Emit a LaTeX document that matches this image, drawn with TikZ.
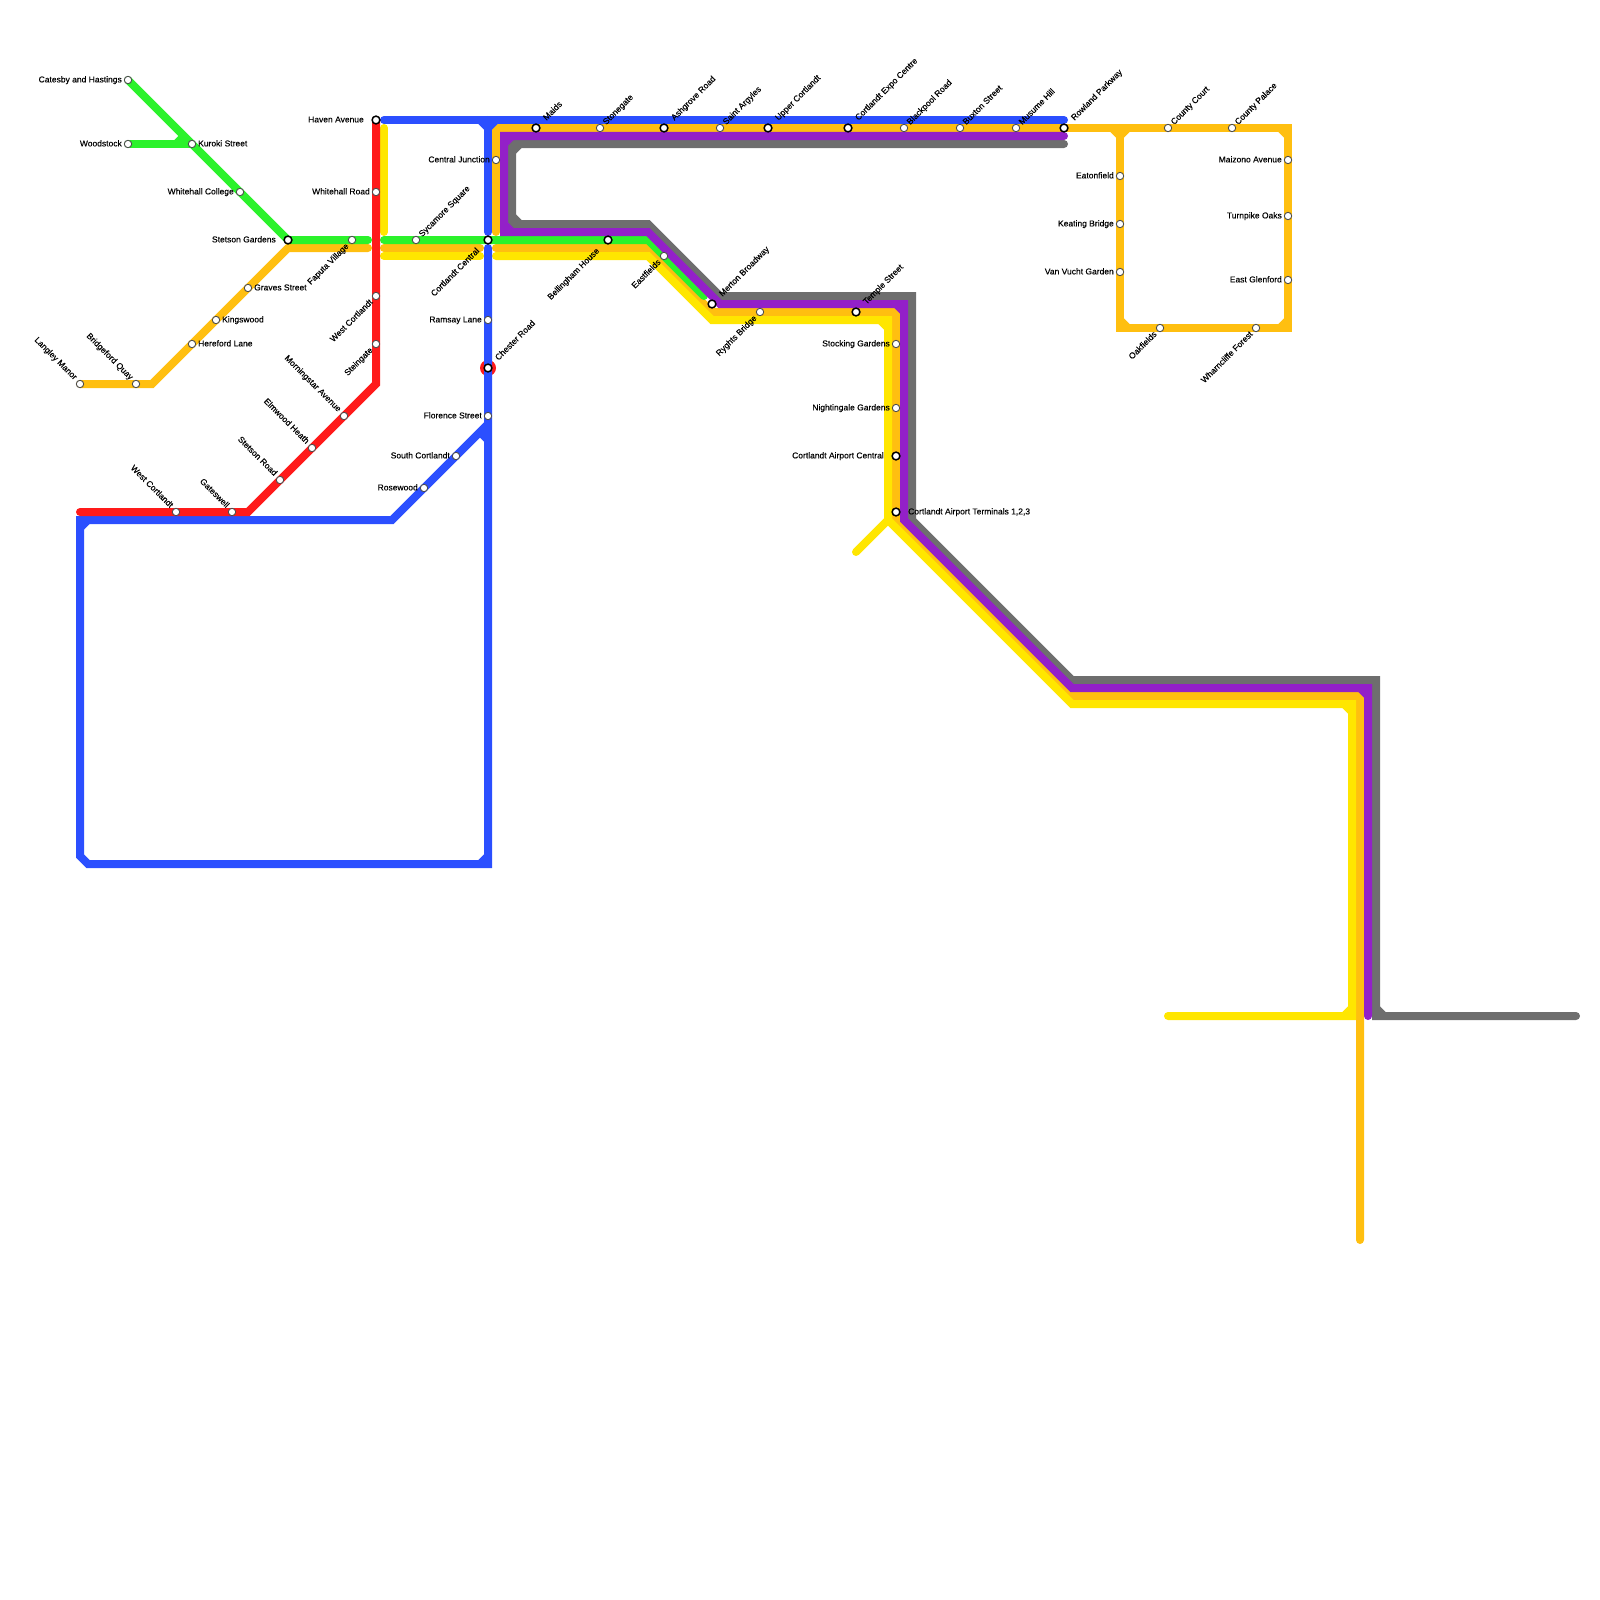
\documentclass[tikz,border=0pt]{standalone}
\usepackage{fontspec}
\setmainfont{Liberation Sans}
\newfontfamily\tagfont[FakeBold=0.25]{Liberation Sans}
\definecolor{metrogrey}{HTML}{6E6E6E}
\definecolor{metropurple}{HTML}{9320C8}
\definecolor{metrogreen}{HTML}{2BF22B}
\definecolor{metroorange}{HTML}{FFBF10}
\definecolor{metroyellow}{HTML}{FFE600}
\definecolor{metroblue}{HTML}{2B4FFF}
\definecolor{metrored}{HTML}{FF1A1A}
\tikzstyle{metro} = [line width=8pt, line cap=round, line join=miter]
\tikzstyle{notch} = [line cap=butt]
\tikzstyle{station} = [circle, draw=black!70, line width=0.9pt, fill=white, minimum size=7.4pt, inner sep=0pt]
\tikzstyle{hub} = [circle, draw=black, line width=1.5pt, fill=white, minimum size=7.8pt, inner sep=0pt]
\tikzstyle{tag} = [font=\tagfont\fontsize{8.5}{10}\selectfont, inner sep=0pt, text=black]
\tikzset{
  tag_e/.style={tag, anchor=base west, xshift=#1, yshift=-2.4pt},
  tag_w/.style={tag, anchor=base east, xshift=-#1, yshift=-2.4pt},
  tag_ne/.style={tag, xshift=1.075*#1+1.8pt, yshift=1.085*#1-1.68pt, rotate=45, anchor=base west},
  tag_sw/.style={tag, xshift=-1.35*#1+2.7pt, yshift=-1.16*#1-2.02pt, rotate=45, anchor=base east},
  tag_nw/.style={tag, xshift=-1.5*#1, yshift=0.9*#1, rotate=-45, anchor=base east},
}
\begin{document}
\begin{tikzpicture}[x=1pt, y=-1pt]
\useasboundingbox (0,0) rectangle (1600,1600);

% Grey line
\draw [metro, metrogrey] (1064,144) -- (512,144) -- (512,224) -- (648,224) -- (720,296) -- (912,296) -- (912,520) -- (1072,680) -- (1376,680) -- (1376,1016) -- (1576,1016);
\draw [metro, notch, metrogrey] (520,144) -- (512,152);
\draw [metro, notch, metrogrey] (512,216) -- (520,224);
\draw [metro, notch, metrogrey] (1376,1008) -- (1384,1016);

% Orange line
\draw [metro, metroorange] (80,384) -- (152,384) -- (288,248) -- (368,248);
\draw [metro, metroorange] (384,248) -- (480,248);
\draw [metro, metroorange] (496,248) -- (648,248) -- (712,312) -- (896,312) -- (896,520) -- (1072,696) -- (1360,696) -- (1360,1240);
\draw [metro, metroorange] (496,232) -- (496,128) -- (1288,128) -- (1288,328) -- (1120,328) -- (1120,128);
\draw [metro, notch, metroorange] (1112,128) -- (1120,136);
\draw [metro, notch, metroorange] (1128,128) -- (1120,136);
\draw [metro, notch, metroorange] (1280,128) -- (1288,136);
\draw [metro, notch, metroorange] (1288,320) -- (1280,328);
\draw [metro, notch, metroorange] (1120,320) -- (1128,328);

% Green line
\draw [metro, metrogreen] (128,80) -- (288,240) -- (368,240);
\draw [metro, metrogreen] (128,144) -- (192,144);
\draw [metro, notch, metrogreen] (176,144) -- (184,136);
\draw [metro, metrogreen] (384,240) -- (648,240) -- (704,296);

% Yellow line
\draw [metro, metroyellow] (384,128) -- (384,232);
\draw [metro, metroyellow] (384,256) -- (480,256);
\draw [metro, metroyellow] (496,256) -- (648,256) -- (712,320) -- (888,320) -- (888,520) -- (1072,704) -- (1352,704) -- (1352,1016) -- (1168,1016);
\draw [metro, metroyellow] (888,520) -- (856,552);
\draw [metro, notch, metroyellow] (880,320) -- (888,328);
\draw [metro, notch, metroyellow] (1344,704) -- (1352,712);
\draw [metro, notch, metroyellow] (1352,1008) -- (1344,1016);

% Purple line
\draw [metro, metropurple] (1064,136) -- (504,136) -- (504,232) -- (648,232) -- (720,304) -- (904,304) -- (904,520) -- (1072,688) -- (1368,688) -- (1368,1016);
\draw [metro, notch, metropurple] (512,136) -- (504,144);
\draw [metro, notch, metropurple] (504,224) -- (512,232);
\draw [metro, notch, metropurple] (896,304) -- (904,312);
\draw [metro, notch, metropurple] (1360,688) -- (1368,696);

% Red ring under the blue line
\node (chester_ring) [circle, fill=metrored, minimum size=16pt, inner sep=0pt] at (488,368) {};

% Blue line
\draw [metro, metroblue] (384,120) -- (1064,120);
\draw [metro, metroblue] (488,120) -- (488,232);
\draw [metro, metroblue] (488,248) -- (488,864) -- (88,864) -- (80,856) -- (80,520) -- (392,520) -- (488,424);
\draw [metro, notch, metroblue] (480,120) -- (488,128);
\draw [metro, notch, metroblue] (496,120) -- (488,128);
\draw [metro, notch, metroblue] (88,520) -- (80,528);
\draw [metro, notch, metroblue] (480,432) -- (488,440);
\draw [metro, notch, metroblue] (488,856) -- (480,864);

% Red line
\draw [metro, metrored] (376,120) -- (376,384) -- (248,512) -- (80,512);

% Green stations
\node (catesby) [station] at (128,80) {};
\node (catesby_tag) [tag_w=6pt] at (catesby) {Catesby and Hastings};
\node (woodstock) [station] at (128,144) {};
\node (woodstock_tag) [tag_w=6pt] at (woodstock) {Woodstock};
\node (kuroki) [station] at (192,144) {};
\node (kuroki_tag) [tag_e=6pt] at (kuroki) {Kuroki Street};
\node (whitehall_college) [station] at (240,192) {};
\node (whitehall_college_tag) [tag_w=6pt] at (whitehall_college) {Whitehall College};
\node (stetson_gardens) [hub] at (288,240) {};
\node (stetson_gardens_tag) [tag_w=12pt] at (stetson_gardens) {Stetson Gardens};
\node (faputa) [station] at (352,240) {};
\node (faputa_tag) [tag_sw=4pt] at (faputa) {Faputa Village};
\node (sycamore) [station] at (416,240) {};
\node (sycamore_tag) [tag_ne=4pt] at (sycamore) {Sycamore Square};
\node (eastfields) [station] at (664,256) {};
\node (eastfields_tag) [tag_sw=4pt] at (eastfields) {Eastfields};

% Left orange stations
\node (langley) [station] at (80,384) {};
\node (langley_tag) [tag_nw=4pt] at (langley) {Langley Manor};
\node (bridgeford) [station] at (136,384) {};
\node (bridgeford_tag) [tag_nw=4pt] at (bridgeford) {Bridgeford Quay};
\node (hereford) [station] at (192,344) {};
\node (hereford_tag) [tag_e=6pt] at (hereford) {Hereford Lane};
\node (kingswood) [station] at (216,320) {};
\node (kingswood_tag) [tag_e=6pt] at (kingswood) {Kingswood};
\node (graves) [station] at (248,288) {};
\node (graves_tag) [tag_e=6pt] at (graves) {Graves Street};

% Red stations
\node (haven) [hub] at (376,120) {};
\node (haven_tag) [tag_w=12pt] at (haven) {Haven Avenue};
\node (whitehall_road) [station] at (376,192) {};
\node (whitehall_road_tag) [tag_w=6pt] at (whitehall_road) {Whitehall Road};
\node (west_cortlandt_a) [station] at (376,296) {};
\node (west_cortlandt_a_tag) [tag_sw=4pt] at (west_cortlandt_a) {West Cortlandt};
\node (steingate) [station] at (376,344) {};
\node (steingate_tag) [tag_sw=4pt] at (steingate) {Steingate};
\node (morningstar) [station] at (344,416) {};
\node (morningstar_tag) [tag_nw=4pt] at (morningstar) {Morningstar Avenue};
\node (elmwood) [station] at (312,448) {};
\node (elmwood_tag) [tag_nw=4pt] at (elmwood) {Elmwood Heath};
\node (stetson_road) [station] at (280,480) {};
\node (stetson_road_tag) [tag_nw=4pt] at (stetson_road) {Stetson Road};
\node (gateswell) [station] at (232,512) {};
\node (gateswell_tag) [tag_nw=4pt] at (gateswell) {Gateswell};
\node (west_cortlandt_b) [station] at (176,512) {};
\node (west_cortlandt_b_tag) [tag_nw=4pt] at (west_cortlandt_b) {West Cortlandt};

% Blue stations
\node (central_junction) [station] at (496,160) {};
\node (central_junction_tag) [tag_w=6pt] at (central_junction) {Central Junction};
\node (cortlandt_central) [hub] at (488,240) {};
\node (cortlandt_central_tag) [tag_sw=8pt] at (cortlandt_central) {Cortlandt Central};
\node (ramsay) [station] at (488,320) {};
\node (ramsay_tag) [tag_w=6pt] at (ramsay) {Ramsay Lane};
\node (chester) [hub] at (488,368) {};
\node (chester_tag) [tag_ne=8pt] at (chester) {Chester Road};
\node (florence) [station] at (488,416) {};
\node (florence_tag) [tag_w=6pt] at (florence) {Florence Street};
\node (south_cortlandt) [station] at (456,456) {};
\node (south_cortlandt_tag) [tag_w=6pt] at (south_cortlandt) {South Cortlandt};
\node (rosewood) [station] at (424,488) {};
\node (rosewood_tag) [tag_w=6pt] at (rosewood) {Rosewood};

% Top row stations
\node (maids) [hub] at (536,128) {};
\node (maids_tag) [tag_ne=8pt] at (maids) {Maids};
\node (stonegate) [station] at (600,128) {};
\node (stonegate_tag) [tag_ne=4pt] at (stonegate) {Stonegate};
\node (ashgrove) [hub] at (664,128) {};
\node (ashgrove_tag) [tag_ne=8pt] at (ashgrove) {Ashgrove Road};
\node (saint_argyles) [station] at (720,128) {};
\node (saint_argyles_tag) [tag_ne=4pt] at (saint_argyles) {Saint Argyles};
\node (upper_cortlandt) [hub] at (768,128) {};
\node (upper_cortlandt_tag) [tag_ne=8pt] at (upper_cortlandt) {Upper Cortlandt};
\node (expo_centre) [hub] at (848,128) {};
\node (expo_centre_tag) [tag_ne=8pt] at (expo_centre) {Cortlandt Expo Centre};
\node (blackpool) [station] at (904,128) {};
\node (blackpool_tag) [tag_ne=4pt] at (blackpool) {Blackpool Road};
\node (buxton) [station] at (960,128) {};
\node (buxton_tag) [tag_ne=4pt] at (buxton) {Buxton Street};
\node (musume) [station] at (1016,128) {};
\node (musume_tag) [tag_ne=4pt] at (musume) {Musume Hill};
\node (rowland) [hub] at (1064,128) {};
\node (rowland_tag) [tag_ne=8pt] at (rowland) {Rowland Parkway};

% Middle stations
\node (bellingham) [hub] at (608,240) {};
\node (bellingham_tag) [tag_sw=8pt] at (bellingham) {Bellingham House};
\node (merton) [hub] at (712,304) {};
\node (merton_tag) [tag_ne=8pt] at (merton) {Merton Broadway};
\node (ryghts) [station] at (760,312) {};
\node (ryghts_tag) [tag_sw=4pt] at (ryghts) {Ryghts Bridge};
\node (temple) [hub] at (856,312) {};
\node (temple_tag) [tag_ne=8pt] at (temple) {Temple Street};
\node (stocking) [station] at (896,344) {};
\node (stocking_tag) [tag_w=6pt] at (stocking) {Stocking Gardens};
\node (nightingale) [station] at (896,408) {};
\node (nightingale_tag) [tag_w=6pt] at (nightingale) {Nightingale Gardens};
\node (airport_central) [hub] at (896,456) {};
\node (airport_central_tag) [tag_w=12pt] at (airport_central) {Cortlandt Airport Central};
\node (airport_terminals) [hub] at (896,512) {};
\node (airport_terminals_tag) [tag_e=12pt] at (airport_terminals) {Cortlandt Airport Terminals 1,2,3};

% Right loop stations
\node (county_court) [station] at (1168,128) {};
\node (county_court_tag) [tag_ne=4pt] at (county_court) {County Court};
\node (county_palace) [station] at (1232,128) {};
\node (county_palace_tag) [tag_ne=4pt] at (county_palace) {County Palace};
\node (maizono) [station] at (1288,160) {};
\node (maizono_tag) [tag_w=6pt] at (maizono) {Maizono Avenue};
\node (turnpike) [station] at (1288,216) {};
\node (turnpike_tag) [tag_w=6pt] at (turnpike) {Turnpike Oaks};
\node (east_glenford) [station] at (1288,280) {};
\node (east_glenford_tag) [tag_w=6pt] at (east_glenford) {East Glenford};
\node (eatonfield) [station] at (1120,176) {};
\node (eatonfield_tag) [tag_w=6pt] at (eatonfield) {Eatonfield};
\node (keating) [station] at (1120,224) {};
\node (keating_tag) [tag_w=6pt] at (keating) {Keating Bridge};
\node (van_vucht) [station] at (1120,272) {};
\node (van_vucht_tag) [tag_w=6pt] at (van_vucht) {Van Vucht Garden};
\node (oakfields) [station] at (1160,328) {};
\node (oakfields_tag) [tag_sw=4pt] at (oakfields) {Oakfields};
\node (wharncliffe) [station] at (1256,328) {};
\node (wharncliffe_tag) [tag_sw=4pt] at (wharncliffe) {Wharncliffe Forest};

\end{tikzpicture}
\end{document}
